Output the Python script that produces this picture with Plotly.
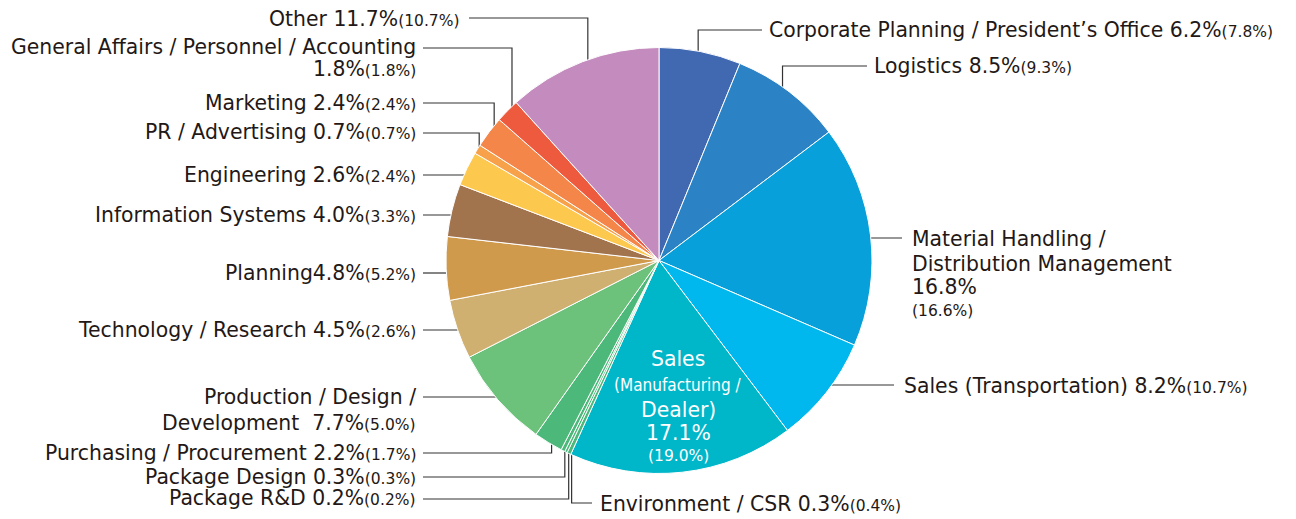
import math
import plotly.graph_objects as go

# ---------------- data ----------------
categories = [
    "Corporate Planning / President’s Office", "Logistics",
    "Material Handling / Distribution Management", "Sales (Transportation)",
    "Sales (Manufacturing / Dealer)", "Environment / CSR", "Package R&D",
    "Package Design", "Purchasing / Procurement", "Production / Design / Development",
    "Technology / Research", "Planning", "Information Systems", "Engineering",
    "PR / Advertising", "Marketing", "General Affairs / Personnel / Accounting", "Other",
]
share_current = [6.2, 8.5, 16.8, 8.2, 17.1, 0.3, 0.2, 0.3, 2.2, 7.7, 4.5, 4.8, 4.0, 2.6, 0.7, 2.4, 1.8, 11.7]
share_previous = [7.8, 9.3, 16.6, 10.7, 19.0, 0.4, 0.2, 0.3, 1.7, 5.0, 2.6, 5.2, 3.3, 2.4, 0.7, 2.4, 1.8, 10.7]
colors = [
    "#4169B2", "#2B83C6", "#08A0DA", "#00B8EE", "#00B6C9", "#4CB97A", "#4CB97A",
    "#4CB97A", "#4CB97A", "#6CC17B", "#D0B070", "#D09A4C", "#A2744E", "#FDC84E",
    "#F7A24A", "#F4864A", "#EE5A3E", "#C48BBE",
]

# ---------------- layout helpers ----------------
W, H = 1296, 519          # target picture size
OX, OY = 8, 8             # browser body margin
CX, CY, R = 659, 260.5, 213
FONT = "DejaVu Sans"
FS = 20.4
TXT = "#231815"
SMALL = "<span style='font-size:15.5px'>({p}%)</span>"

# per slice: label lines [(template, y)], x, xanchor, anchor radius fraction, leader kind, leader end x, leader y
label_spec = [
    ([("Corporate Planning / President’s Office {v}%" + SMALL, 30)], 767, "left", 0.95, "e", 762, 30),
    ([("Logistics {v}%" + SMALL, 66)], 872, "left", 0.95, "e", 867, 66),
    ([("Material Handling /", 239), ("Distribution Management", 264), ("{v}%", 287), (SMALL, 311)],
     910, "left", 0.91, "h", 902, 238),
    ([("Sales (Transportation) {v}%" + SMALL, 386)], 902, "left", 0.95, "h", 894, 385),
    (None, None, None, None, None, None, None),
    ([("Environment / CSR {v}%" + SMALL, 504)], 598, "left", 0.97, "e", 592, 503),
    ([("Package R&D {v}%" + SMALL, 498)], 418, "right", 0.97, "e", 423, 499),
    ([("Package Design {v}%" + SMALL, 477)], 418, "right", 0.98, "e", 423, 477),
    ([("Purchasing / Procurement {v}%" + SMALL, 453)], 418, "right", 0.97, "e", 423, 453),
    ([("Production / Design /", 397), ("Development  {v}%" + SMALL, 423)], 418, "right", 0.96, "h", 423, 397),
    ([("Technology / Research {v}%" + SMALL, 330)], 418, "right", 0.97, "h", 423, 330),
    ([("Planning{v}%" + SMALL, 273)], 418, "right", 0.97, "h", 423, 273),
    ([("Information Systems {v}%" + SMALL, 215)], 418, "right", 0.97, "h", 423, 215),
    ([("Engineering {v}%" + SMALL, 175)], 418, "right", 0.98, "h", 423, 175),
    ([("PR / Advertising {v}%" + SMALL, 132)], 418, "right", 0.99, "e", 423, 133),
    ([("Marketing {v}%" + SMALL, 103)], 418, "right", 0.97, "e", 423, 103),
    ([("General Affairs / Personnel / Accounting", 47), ("{v}%" + SMALL, 69)], 418, "right", 0.97, "e", 423, 48),
    ([("Other {v}%" + SMALL, 19)], 462, "right", 0.93, "e", 469, 18),
]

fig = go.Figure()

FW, FH = W - OX, H - OY
fig.add_trace(go.Pie(
    labels=categories, values=share_current, sort=False, direction="clockwise", rotation=0,
    marker=dict(colors=colors, line=dict(color="white", width=1)),
    textinfo="none", hoverinfo="label+value", showlegend=False,
    domain=dict(x=[(CX - R - OX) / FW, (CX + R - OX) / FW],
                y=[1 - (CY + R - OY) / FH, 1 - (CY - R - OY) / FH]),
))

total = sum(share_current)
cum = 0.0
lx, ly = [], []
annotations = []
for i, v in enumerate(share_current):
    mid = (cum + v / 2) / total * 2 * math.pi
    cum += v
    lines, x, xa, frac, kind, endx, leady = label_spec[i]
    if lines is None:
        continue
    ax = CX + frac * R * math.sin(mid)
    ay = CY - frac * R * math.cos(mid)
    if kind == "e":
        lx += [endx, ax, ax, None]
        ly += [leady, leady, ay, None]
    else:
        lx += [endx, ax, None]
        ly += [leady, leady, None]
    for tpl, y in lines:
        annotations.append(dict(
            x=x, y=y, xref="x", yref="y", xanchor=xa, yanchor="middle", showarrow=False,
            text=tpl.format(v=share_current[i], p=share_previous[i]),
            font=dict(family=FONT, size=FS, color=TXT),
        ))

# inside label for Sales (Manufacturing / Dealer)
k = 4
inside_lines = [
    ("Sales", 359, FS, FONT),
    ("(Manufacturing /", 385, 17, "DejaVu Sans Condensed"),
    ("Dealer)", 410, FS, FONT),
    ("{v}%", 433, FS, FONT),
    ("({p}%)", 456, 15.5, FONT),
]
for tpl, y, fs, fam in inside_lines:
    annotations.append(dict(
        x=678, y=y, xref="x", yref="y", xanchor="center", yanchor="middle", showarrow=False,
        text=tpl.format(v=share_current[k], p=share_previous[k]),
        font=dict(family=fam, size=fs, color="white"),
    ))

fig.add_trace(go.Scatter(x=lx, y=ly, mode="lines", line=dict(color="#333333", width=1.2),
                         hoverinfo="skip", showlegend=False))

fig.update_layout(
    width=FW, height=FH, margin=dict(l=0, r=0, t=0, b=0),
    paper_bgcolor="white", plot_bgcolor="rgba(0,0,0,0)",
    xaxis=dict(range=[OX, W], visible=False, fixedrange=True),
    yaxis=dict(range=[H, OY], visible=False, fixedrange=True),
    annotations=annotations,
)

fig.write_html("out.html")
